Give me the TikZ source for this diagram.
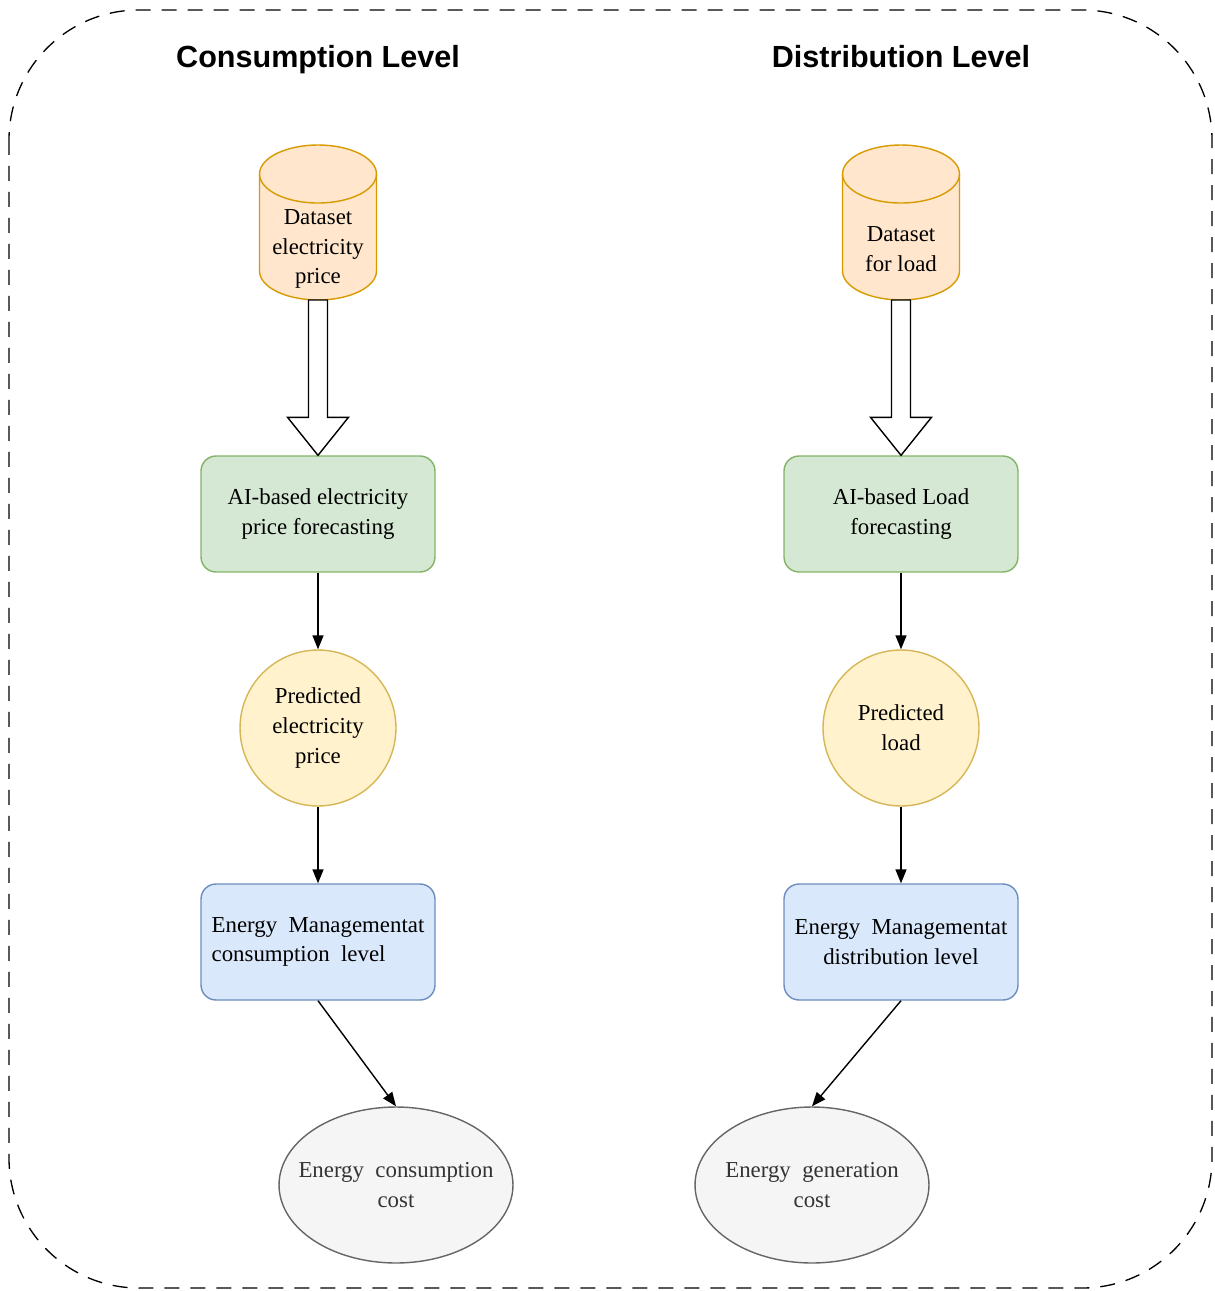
\documentclass[tikz,border=0pt]{standalone}
\usepackage{fontspec}
\setmainfont{Liberation Serif}
\newfontfamily\headfont{Liberation Sans}
\usetikzlibrary{arrows.meta, positioning, calc, shapes.geometric, backgrounds}
\definecolor{dbfill}{HTML}{FFE6CC}
\definecolor{dbdraw}{HTML}{D79B00}
\definecolor{aifill}{HTML}{D5E8D4}
\definecolor{aidraw}{HTML}{82B366}
\definecolor{prfill}{HTML}{FFF2CC}
\definecolor{prdraw}{HTML}{D6B656}
\definecolor{emfill}{HTML}{DAE8FC}
\definecolor{emdraw}{HTML}{6C8EBF}
\definecolor{costfill}{HTML}{F5F5F5}
\definecolor{costdraw}{HTML}{666666}
\definecolor{costtext}{HTML}{333333}

\begin{document}
\begin{tikzpicture}[x=0.02cm, y=-0.02cm,
    every node/.style={font=\fontsize{13}{17}\selectfont},
    heading/.style={font=\headfont\bfseries\fontsize{17.4}{20}\selectfont, anchor=base},
    dbase/.style={rectangle, minimum width=2.34cm, minimum height=3.1cm, inner sep=0pt, outer sep=0pt,
        label={[align=center, yshift=-0.53cm]center:#1}},
    dbshape/.style={draw=dbdraw, fill=dbfill, line width=0.8pt},
    aibox/.style={rectangle, rounded corners=0.3cm, draw=aidraw, fill=aifill,
        minimum width=4.68cm, minimum height=2.32cm, align=center, line width=0.8pt},
    predicted/.style={circle, draw=prdraw, fill=prfill, minimum size=3.12cm,
        inner sep=0pt, align=center, line width=0.8pt},
    embox/.style={rectangle, rounded corners=0.3cm, draw=emdraw, fill=emfill,
        minimum width=4.68cm, minimum height=2.32cm, line width=0.8pt},
    cost/.style={ellipse, draw=costdraw, fill=costfill, text=costtext,
        minimum width=4.68cm, minimum height=3.12cm, inner xsep=-0.4cm, inner ysep=0pt,
        align=center, line width=0.8pt},
    flow/.style={-{Triangle[length=0.28cm, width=0.22cm]}, line width=0.8pt},
    hollow/.style={draw, fill=white, line width=0.8pt, line join=miter}
]
    % Frame
    \useasboundingbox (0,0) rectangle (1214,1291);
    \draw[dash pattern=on 0.3cm off 0.22cm, line width=0.75pt, rounded corners=2.6cm]
        (9,10) rectangle (1212,1288);

    % Headings
    \node[heading] (tA) at (318,68) {Consumption Level};
    \node[heading] (tB) at (901,68) {Distribution Level};

    % Consumption side
    \node[dbase={Dataset\\electricity\\price}] (dsA) at (318,222.5) {};
    \node[aibox] (aiA) at (318,514) {AI-based electricity\\price forecasting};
    \node[predicted] (prA) at (318,728) {Predicted\\electricity\\price};
    \node[embox, align=left] (emA) at (318,942) {Energy\ \ Managementat\\consumption\ \ level};
    \node[cost] (costA) at (396,1185) {Energy\ \ consumption\\cost};

    % Distribution side
    \node[dbase={Dataset\\for load}] (dsB) at (901,222.5) {};
    \node[aibox] (aiB) at (901,514) {AI-based Load\\forecasting};
    \node[predicted] (prB) at (901,728) {Predicted\\load};
    \node[embox, align=center] (emB) at (901,942) {Energy\ \ Managementat\\distribution level};
    \node[cost] (costB) at (812,1185) {Energy\ \ generation\\cost};

    % Cylinders behind the dataset labels
    \begin{scope}[on background layer]
        \foreach \ds in {dsA, dsB} {
            \filldraw[dbshape] ($(\ds.north west)+(0,29)$) -- ($(\ds.south west)+(0,-29)$)
                arc[start angle=180, end angle=360, x radius=1.17cm, y radius=0.58cm]
                -- ($(\ds.north east)+(0,29)$)
                arc[start angle=0, end angle=180, x radius=1.17cm, y radius=0.58cm] -- cycle;
            \draw[dbshape, fill=none] ($(\ds.north west)+(0,29)$)
                arc[start angle=180, end angle=360, x radius=1.17cm, y radius=0.58cm];
        }
    \end{scope}

    % Block arrows
    \draw[hollow] ($(dsA.south)+(-9.5,0)$) |- ($(aiA.north)+(-30.5,-38)$) -- (aiA.north)
        -- ($(aiA.north)+(30.5,-38)$) -| ($(dsA.south)+(9.5,0)$) -- cycle;
    \draw[hollow] ($(dsB.south)+(-9.5,0)$) |- ($(aiB.north)+(-30.5,-38)$) -- (aiB.north)
        -- ($(aiB.north)+(30.5,-38)$) -| ($(dsB.south)+(9.5,0)$) -- cycle;

    % Flow arrows
    \draw[flow] (aiA.south) -- (prA.north);
    \draw[flow] (prA.south) -- (emA.north);
    \draw[flow] (emA.south) -- (costA.north);
    \draw[flow] (aiB.south) -- (prB.north);
    \draw[flow] (prB.south) -- (emB.north);
    \draw[flow] (emB.south) -- (costB.north);
\end{tikzpicture}
\end{document}
